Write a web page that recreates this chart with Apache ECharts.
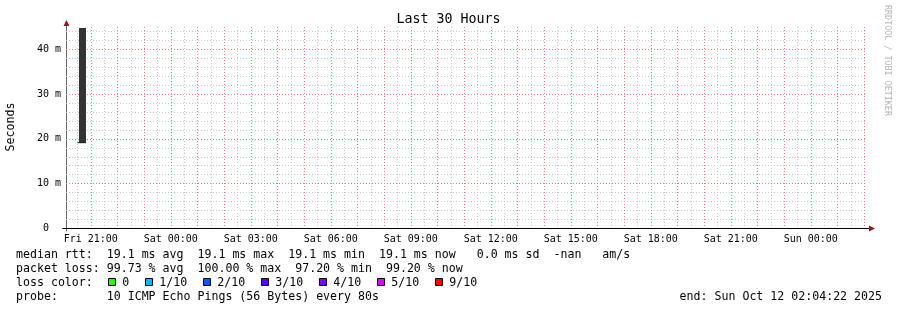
<!DOCTYPE html>
<html><head><meta charset="utf-8">
<script src="https://cdn.jsdelivr.net/npm/echarts@6/dist/echarts.min.js"></script>
<style>html,body{margin:0;padding:0;background:#fff}#c{width:897px;height:310px}</style>
</head><body><div id="c"></div>
<script>
// time in hours since Fri Oct 10 00:00
const startHour = 20 + 4/60 + 22/3600;   // Fri 20:04:22
const endHour = startHour + 30;          // Sun 02:04:22
const yMin = 0, yMax = 45;
const xTickHours = [21, 24, 27, 30, 33, 36, 39, 42, 45, 48];
const xTickLabels = ['Fri 21:00','Sat 00:00','Sat 03:00','Sat 06:00','Sat 09:00','Sat 12:00','Sat 15:00','Sat 18:00','Sat 21:00','Sun 00:00'];
const yTickValues = [0, 10, 20, 30, 40];
const xMajorGrid = [21,22,23,24,25,26,27,28,29,30,31,32,33,34,35,36,37,38,39,40,41,42,43,44,45,46,47,48,49,50];
const xMinorGrid = [20.5,21.5,22.5,23.5,24.5,25.5,26.5,27.5,28.5,29.5,30.5,31.5,32.5,33.5,34.5,35.5,36.5,37.5,38.5,39.5,40.5,41.5,42.5,43.5,44.5,45.5,46.5,47.5,48.5,49.5];
const yMajorGrid = [10, 20, 30, 40];
const yMinorGrid = [2,4,6,8,12,14,16,18,22,24,26,28,32,34,36,38,42,44];
// smoke band: [fromHour, toHour, lowMs, highMs]
const smokeBands = [[20.56, 20.82, 19.1, 45]];
const medianRtt = [[20.5, 19.1], [20.82, 19.1]];
const lossLabels = ['0', '1/10', '2/10', '3/10', '4/10', '5/10', '9/10'];
const lossColors = ['#26ff00', '#00b8ff', '#0059ff', '#5e00ff', '#7e00ff', '#dd00ff', '#ff0000'];
const statLines = [
  'median rtt:  19.1 ms avg  19.1 ms max  19.1 ms min  19.1 ms now   0.0 ms sd  -nan   am/s',
  'packet loss: 99.73 % avg  100.00 % max  97.20 % min  99.20 % now',
  'loss color:',
  'probe:       10 ICMP Echo Pings (56 Bytes) every 80s'
];
const endText = 'end: Sun Oct 12 02:04:22 2025';
const titleText = 'Last 30 Hours';
const yName = 'Seconds';
const sideText = 'RRDTOOL / TOBI OETIKER';

const MONO = '"DejaVu Sans Mono", monospace';
const MAJ = '#ee7a7a', MIN = '#c6c6c6';

function vline(color) {
  return function (params, api) {
    const v = api.value(0);
    const a = api.coord([v, yMax]), b = api.coord([v, yMin]);
    const x = Math.round(a[0]) + 0.5;
    return { type: 'line', silent: true, shape: { x1: x, y1: Math.round(a[1]), x2: x, y2: Math.round(b[1]) },
      style: { stroke: color, lineWidth: 1, lineDash: [1, 2] } };
  };
}
function hline(color) {
  return function (params, api) {
    const v = api.value(0);
    const a = api.coord([startHour, v]), b = api.coord([endHour, v]);
    const y = Math.round(a[1]) + 0.5;
    return { type: 'line', silent: true, shape: { x1: Math.round(a[0]), y1: y, x2: Math.round(b[0]), y2: y },
      style: { stroke: color, lineWidth: 1, lineDash: [1, 2] } };
  };
}

const chart = echarts.init(document.getElementById('c'), null, { renderer: 'canvas' });
chart.setOption({
  animation: false,
  backgroundColor: '#fff',
  grid: { left: 66, right: 31, top: 27, bottom: 82, containLabel: false },
  xAxis: {
    type: 'value', min: startHour, max: endHour,
    axisLine: { show: true, lineStyle: { color: '#000', width: 1 } },
    axisTick: { show: false }, splitLine: { show: false },
    axisLabel: { customValues: xTickHours, margin: 6, color: '#000', fontFamily: MONO, fontSize: 10,
      formatter: v => { const i = xTickHours.indexOf(v); return i >= 0 ? xTickLabels[i] : ''; } }
  },
  yAxis: {
    type: 'value', min: yMin, max: yMax,
    axisLine: { show: true, lineStyle: { color: '#666', width: 1 } },
    axisTick: { show: false }, splitLine: { show: false },
    axisLabel: { customValues: yTickValues, margin: 5, color: '#000', fontFamily: MONO, fontSize: 10,
      padding: [2, 0, 0, 0],
      formatter: v => v === 0 ? '0  ' : v + ' m' }
  },
  series: [
    { type: 'custom', z: 1, silent: true, renderItem: vline(MIN), encode: { x: 0 }, data: xMinorGrid.map(v => [v]) },
    { type: 'custom', z: 1, silent: true, renderItem: hline(MIN), encode: { y: 0 }, data: yMinorGrid.map(v => [v]) },
    { type: 'custom', z: 2, silent: true, renderItem: vline(MAJ), encode: { x: 0 }, data: xMajorGrid.map(v => [v]) },
    { type: 'custom', z: 2, silent: true, renderItem: hline(MAJ), encode: { y: 0 }, data: yMajorGrid.map(v => [v]) },
    { type: 'custom', z: 3, silent: true, encode: { x: [0, 1], y: [2, 3] }, data: smokeBands,
      renderItem: function (params, api) {
        const p0 = api.coord([api.value(0), api.value(3)]);
        const p1 = api.coord([api.value(1), api.value(2)]);
        const x0 = Math.round(p0[0]), x1 = Math.round(p1[0]);
        const y0 = Math.round(p0[1]), y1 = Math.round(p1[1]);
        return { type: 'rect', shape: { x: x0, y: y0 + 1, width: x1 - x0, height: y1 - y0 - 1 }, style: { fill: '#333333' } };
      } },
    { type: 'line', z: 4, silent: true, symbol: 'none', data: medianRtt,
      lineStyle: { color: '#222', width: 1 } }
  ]
});

// Decorations: arrows, title, legend texts
const g = [];
const origin = chart.convertToPixel({ gridIndex: 0 }, [startHour, 0]);
const topLeft = chart.convertToPixel({ gridIndex: 0 }, [startHour, yMax]);
const right = chart.convertToPixel({ gridIndex: 0 }, [endHour, 0]);
const ax = Math.round(origin[0]) + 0.5, ay = Math.round(origin[1]) + 0.5;
const ARW = '#8b1a1a';
g.push({ type: 'line', shape: { x1: right[0], y1: ay, x2: right[0] + 4, y2: ay }, style: { stroke: '#000', lineWidth: 1 } });
g.push({ type: 'polygon', shape: { points: [[right[0] + 3, ay - 3], [right[0] + 3, ay + 3], [right[0] + 9, ay]] }, style: { fill: ARW } });
g.push({ type: 'line', shape: { x1: ax, y1: topLeft[1], x2: ax, y2: topLeft[1] - 2 }, style: { stroke: '#666', lineWidth: 1 } });
g.push({ type: 'polygon', shape: { points: [[ax - 3, topLeft[1] - 1], [ax + 3, topLeft[1] - 1], [ax, topLeft[1] - 7]] }, style: { fill: ARW } });
// small tick extensions at the origin
g.push({ type: 'line', shape: { x1: ax - 4, y1: ay, x2: ax, y2: ay }, style: { stroke: '#000', lineWidth: 1 } });
g.push({ type: 'line', shape: { x1: ax, y1: ay, x2: ax, y2: ay + 3 }, style: { stroke: '#666', lineWidth: 1 } });

function txt(text, x, y, size, opts) {
  opts = opts || {};
  return { type: 'text', x: x, y: y, rotation: opts.rotation || 0, silent: true,
    style: { text: text, font: size + 'px ' + MONO, fill: opts.fill || '#000',
      textAlign: opts.align || 'left', align: opts.align || 'left',
      textVerticalAlign: 'middle', verticalAlign: 'middle' } };
}
g.push(txt(titleText, 448.5, 19.5, 13.3, { align: 'center' }));
g.push(txt(yName, 11, 127, 11.6, { align: 'center', rotation: Math.PI / 2 }));
g.push(txt(sideText, 887, 5, 8.4, { align: 'left', rotation: -Math.PI / 2, fill: '#b4b4b4' }));
const lineY = [254.5, 268.5, 282.5, 296.5];
statLines.forEach((s, i) => g.push(txt(s, 16, lineY[i], 11.6)));
g.push(txt(endText, 882, lineY[3], 11.6, { align: 'right' }));
let bx = 108;
lossLabels.forEach((lab, i) => {
  g.push({ type: 'rect', shape: { x: bx + 0.5, y: 278.5, width: 7, height: 7 }, style: { fill: lossColors[i], stroke: '#000', lineWidth: 1 } });
  const tx = bx + 14.3;
  g.push(txt(lab, tx, lineY[2], 11.6));
  bx = tx + lab.length * 7 + 15.7;
});
chart.setOption({ graphic: { elements: g } });
</script>
</body></html>
